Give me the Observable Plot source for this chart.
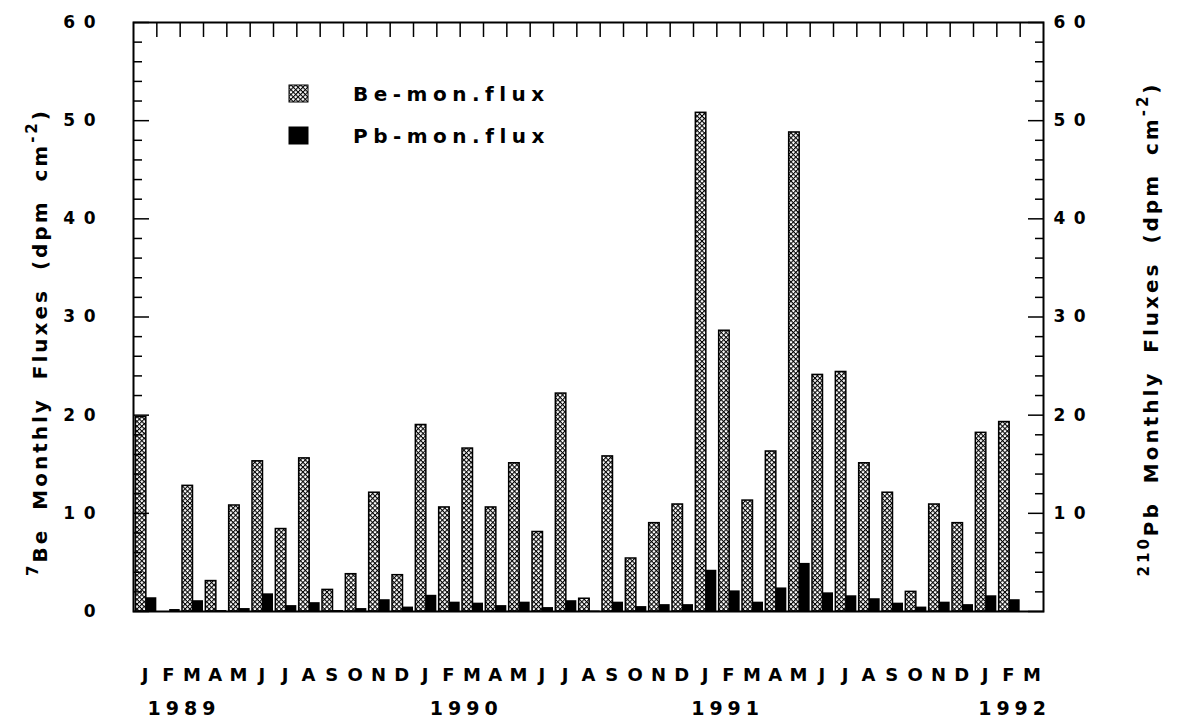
<!DOCTYPE html>
<html>
<head>
<meta charset="utf-8">
<script src="https://cdn.jsdelivr.net/npm/d3@7"></script>
<script src="https://cdn.jsdelivr.net/npm/@observablehq/plot@0.6"></script>
<style>
  body { margin: 0; background: #fff; }
  svg text { font-family: "DejaVu Sans", "Liberation Sans", Arial, sans-serif; font-weight: bold; }
  .years text { letter-spacing: 5px; }
</style>
</head>
<body>
<div id="chart"></div>
<script>
// Months from January 1989 to March 1992
const months = [
  "J","F","M","A","M","J","J","A","S","O","N","D",
  "J","F","M","A","M","J","J","A","S","O","N","D",
  "J","F","M","A","M","J","J","A","S","O","N","D",
  "J","F","M"
];

// 7Be monthly deposition flux (dpm cm^-2)
const beFlux = [
  19.8, 0, 12.8, 3.1, 10.8, 15.3, 8.4, 15.6, 2.2, 3.8, 12.1, 3.7,
  19.0, 10.6, 16.6, 10.6, 15.1, 8.1, 22.2, 1.3, 15.8, 5.4, 9.0, 10.9,
  50.8, 28.6, 11.3, 16.3, 48.8, 24.1, 24.4, 15.1, 12.1, 2.0, 10.9, 9.0,
  18.2, 19.3, 0
];

// 210Pb monthly deposition flux (dpm cm^-2)
const pbFlux = [
  1.4, 0.2, 1.1, 0.1, 0.3, 1.8, 0.6, 0.9, 0.1, 0.3, 1.2, 0.45,
  1.65, 0.95, 0.85, 0.6, 0.95, 0.4, 1.1, 0.05, 0.95, 0.5, 0.7, 0.7,
  4.2, 2.1, 0.95, 2.4, 4.9, 1.9, 1.6, 1.3, 0.85, 0.45, 0.95, 0.7,
  1.6, 1.2, 0
];

// Year labels and the month offset where each one starts
const years = ["1989", "1990", "1991", "1992"];
const yearStart = [0.6, 12.7, 23.9, 36.2];

const leftTicks = [0, 10, 20, 30, 40, 50, 60];
const rightTicks = [10, 20, 30, 40, 50, 60];
const majorTicks = [0, 10, 20, 30, 40, 50, 60];
const minorTicks = [2, 4, 6, 8, 12, 14, 16, 18, 22, 24, 26, 28, 32, 34, 36, 38, 42, 44, 46, 48, 52, 54, 56, 58];
const monthBounds = d3.range(1, months.length);

const rows = months.map((m, i) => ({ i, month: m, be: beFlux[i], pb: pbFlux[i] }));
const spaced = d => String(d).split("").join("\u2002");
const blank = () => "";

const chart = Plot.plot({
  width: 1177,
  height: 721,
  marginLeft: 133,
  marginRight: 134,
  marginTop: 22,
  marginBottom: 110,
  style: { background: "white", color: "black", fontFamily: "DejaVu Sans, sans-serif" },
  x: { type: "linear", domain: [0, months.length] },
  y: { domain: [0, 60] },
  marks: [
    Plot.rectY(rows.filter(d => d.be > 0), {
      x1: d => d.i + 0.1, x2: d => d.i + 0.55, y1: 0, y2: "be",
      fill: "url(#beHatch)", stroke: "black", strokeWidth: 1.5
    }),
    Plot.rectY(rows.filter(d => d.pb > 0), {
      x1: d => d.i + 0.55, x2: d => d.i + 1, y1: 0, y2: "pb",
      fill: "black"
    }),
    // inward ticks on the framed sides
    Plot.axisY({ anchor: "left", ticks: minorTicks, tickSize: -9, tickFormat: blank, label: null, strokeWidth: 1.5 }),
    Plot.axisY({ anchor: "left", ticks: majorTicks, tickSize: -16, tickFormat: blank, label: null, strokeWidth: 1.5 }),
    Plot.axisY({ anchor: "right", ticks: minorTicks, tickSize: -9, tickFormat: blank, label: null, strokeWidth: 1.5 }),
    Plot.axisY({ anchor: "right", ticks: majorTicks, tickSize: -16, tickFormat: blank, label: null, strokeWidth: 1.5 }),
    Plot.axisX({ anchor: "top", ticks: monthBounds, tickSize: -14, tickFormat: blank, label: null, strokeWidth: 1.5 }),
    // tick labels
    Plot.text(leftTicks, { y: d => d, frameAnchor: "left", dx: -38, textAnchor: "end", text: spaced, fontSize: 17, fontWeight: "bold" }),
    Plot.text(rightTicks, { y: d => d, frameAnchor: "right", dx: 10, textAnchor: "start", text: spaced, fontSize: 17, fontWeight: "bold" }),
    Plot.text(rows, { x: d => d.i + 0.5, frameAnchor: "bottom", dy: 64, lineAnchor: "middle", text: "month", fontSize: 18, fontWeight: "bold" }),
    Plot.text(years, { x: (d, i) => yearStart[i], frameAnchor: "bottom", dy: 97, lineAnchor: "middle", textAnchor: "start", text: d => d, fontSize: 19, fontWeight: "bold", className: "years" }),
    Plot.frame({ stroke: "black", strokeWidth: 2 })
  ]
});

const svg = d3.select(chart);

// crosshatch fill for the Be bars
const defs = svg.insert("defs", ":first-child");
const pat = defs.append("pattern")
  .attr("id", "beHatch")
  .attr("width", 3.4).attr("height", 3.4)
  .attr("patternUnits", "userSpaceOnUse")
  .attr("patternTransform", "rotate(45)");
pat.append("rect").attr("width", 3.4).attr("height", 3.4).attr("fill", "white");
pat.append("path").attr("d", "M0,0H3.4M0,0V3.4").attr("stroke", "black").attr("stroke-width", 2.1);

// legend
const legend = svg.append("g").attr("text-anchor", "start");
const legendItems = [
  { label: "Be-mon.flux", fill: "url(#beHatch)", y: 85 },
  { label: "Pb-mon.flux", fill: "black", y: 127 }
];
legendItems.forEach(item => {
  legend.append("rect")
    .attr("x", 289).attr("y", item.y).attr("width", 19).attr("height", 17)
    .attr("fill", item.fill).attr("stroke", "black").attr("stroke-width", 1);
  legend.append("text")
    .attr("x", 353).attr("y", item.y + 16)
    .attr("text-anchor", "start")
    .attr("font-size", 20).attr("font-weight", "bold")
    .style("letter-spacing", "5.5px")
    .text(item.label);
});

// rotated axis titles with isotope superscripts
function title(x, y, iso, element) {
  const t = svg.append("text")
    .attr("transform", `translate(${x},${y}) rotate(-90)`)
    .attr("text-anchor", "middle")
    .attr("font-size", 20).attr("font-weight", "bold")
    .style("letter-spacing", "3px").style("word-spacing", "8px");
  t.append("tspan").attr("font-size", 15).attr("dy", -9).text(iso);
  t.append("tspan").attr("dy", 9).text(`${element} Monthly Fluxes (dpm cm`);
  t.append("tspan").attr("font-size", 15).attr("dy", -10).text("-2");
  t.append("tspan").attr("dy", 10).text(")");
}
title(47, 342, "7", "Be");
title(1158, 329, "210", "Pb");

document.getElementById("chart").appendChild(chart);
</script>
</body>
</html>
